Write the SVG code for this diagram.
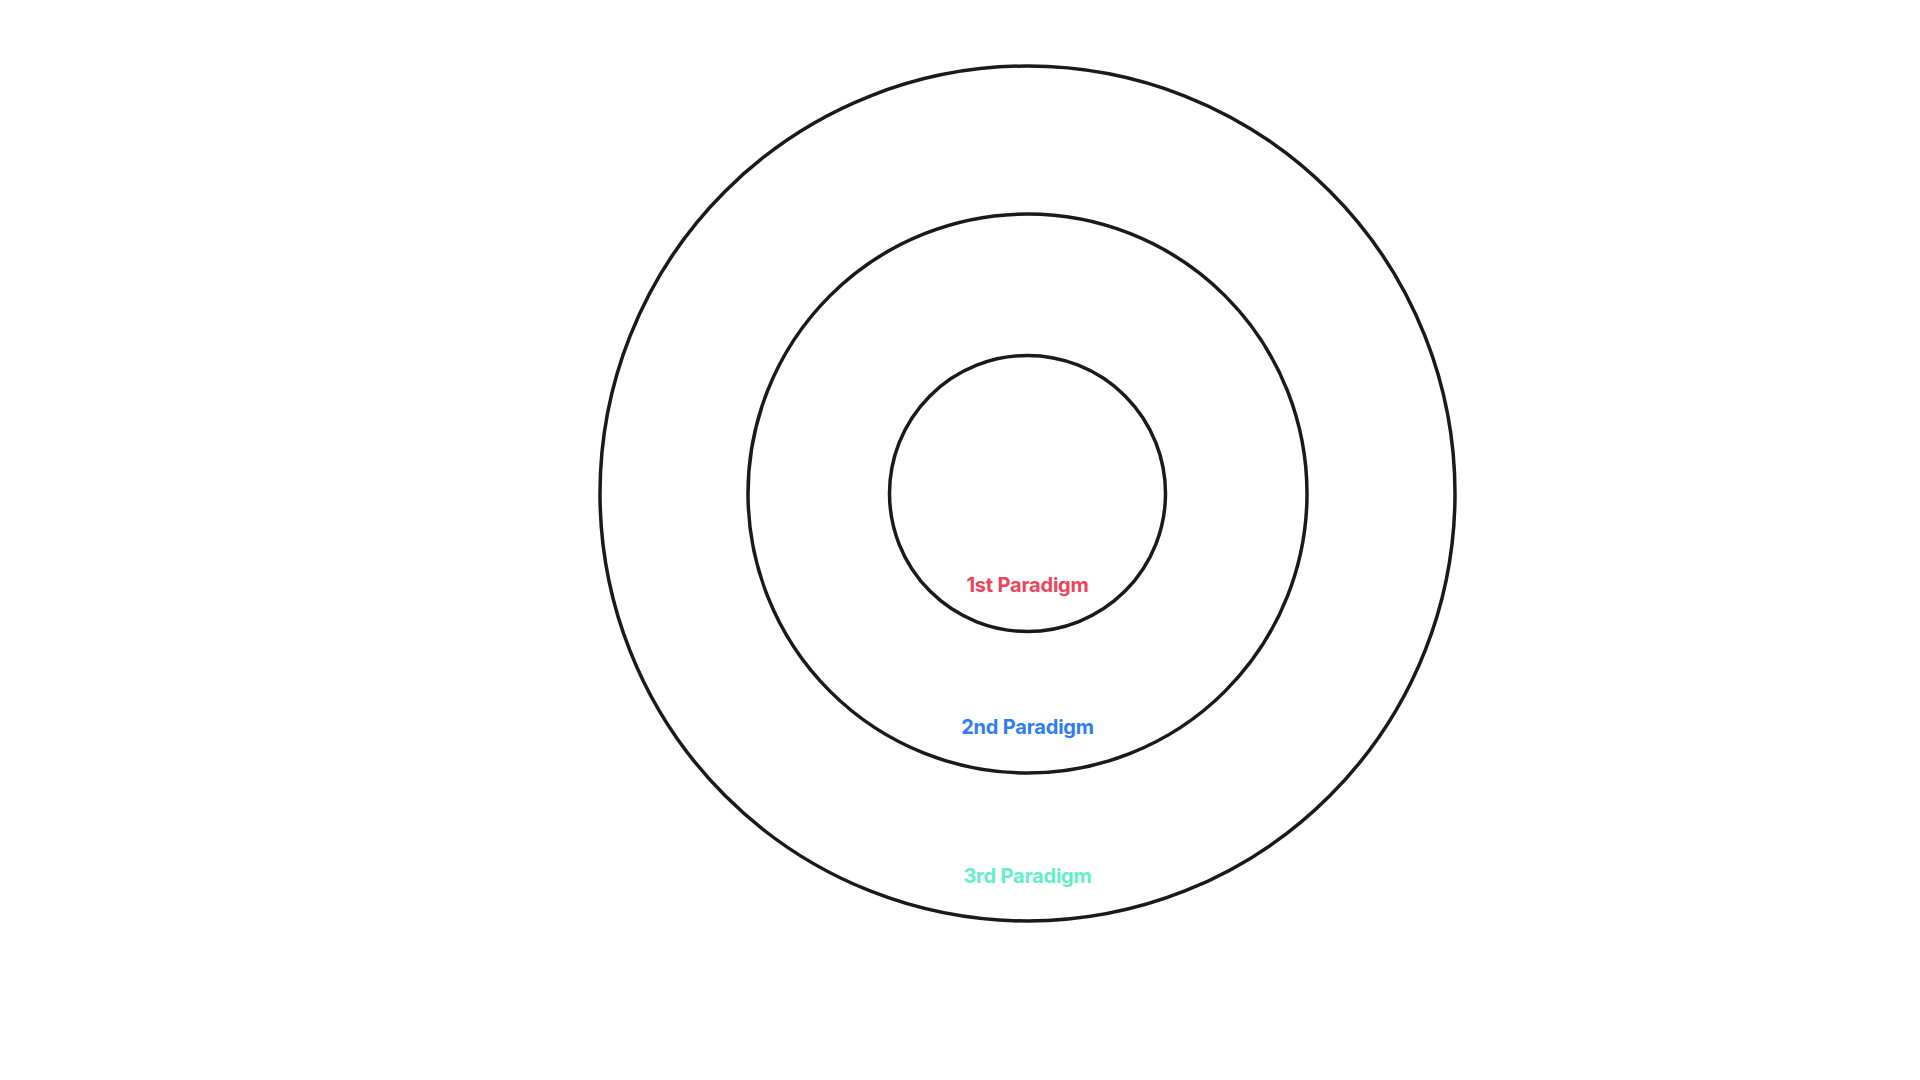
<svg xmlns="http://www.w3.org/2000/svg" width="1920" height="1080" viewBox="0 0 1920 1080">
<style>
.ring{fill:none;stroke:#1a1a1a;stroke-width:3.5}
.lbl{font-family:Inter,"Liberation Sans",sans-serif;font-size:20px;font-weight:700;text-anchor:middle;letter-spacing:-0.2px}
</style>
<rect width="1920" height="1080" fill="#fff"/>
<g id="paradigm3"><circle class="ring" cx="1027.5" cy="493.5" r="427.5"/><text class="lbl" x="1027.5" y="883" fill="#5ff0c9">3rd Paradigm</text></g>
<g id="paradigm2"><circle class="ring" cx="1027.5" cy="493.5" r="279.5"/><text class="lbl" x="1027.5" y="734" fill="#2e7cf6">2nd Paradigm</text></g>
<g id="paradigm1"><circle class="ring" cx="1027.5" cy="493.5" r="138"/><text class="lbl" x="1027.5" y="592" fill="#f0435a">1st Paradigm</text></g>
<g id="connectors"/>
</svg>
